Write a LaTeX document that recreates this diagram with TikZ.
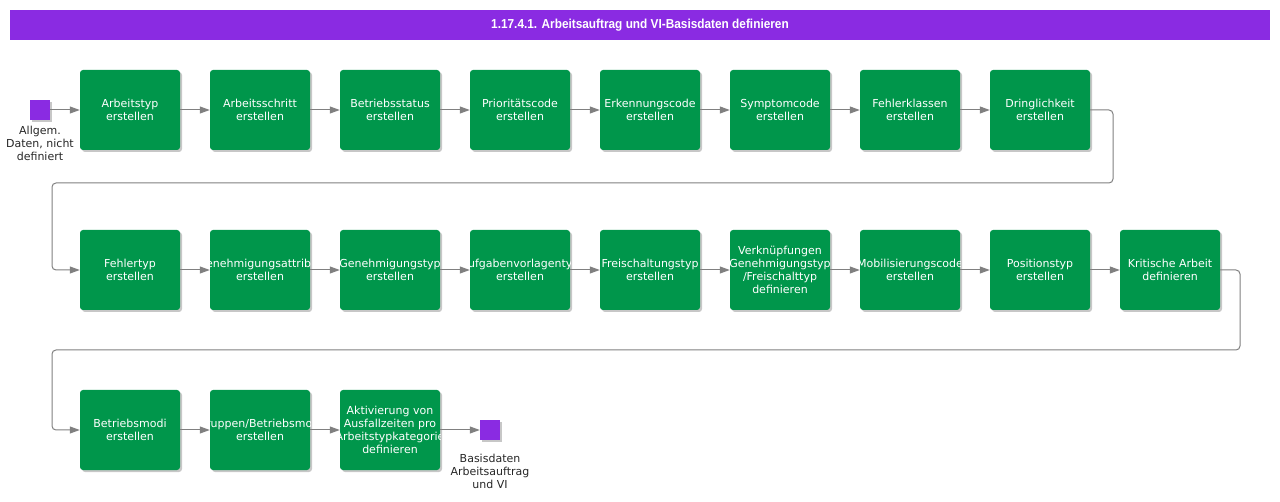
\documentclass[tikz,border=0pt]{standalone}
\usepackage{fontspec}
\setmainfont{DejaVu Sans}
\newfontfamily\titlefont{Liberation Sans}
\usetikzlibrary{arrows.meta,shadows}
\definecolor{titlebg}{HTML}{8A2BE2}
\definecolor{boxgreen}{HTML}{00964B}
\definecolor{linegray}{HTML}{808080}
\newcommand{\boxfont}{\fontsize{11}{13}\selectfont}
\tikzset{
  stepbox/.style={rectangle, rounded corners=3pt, fill=boxgreen, minimum width=100pt, minimum height=80pt, inner sep=0pt,
    drop shadow={shadow xshift=2pt, shadow yshift=-2pt, fill=black, opacity=0.22},
    path picture={\node[text=white, align=center, font=\boxfont, inner sep=0pt] at (path picture bounding box.center) {#1};}},
  term/.style={rectangle, fill=titlebg, minimum width=20pt, minimum height=20pt, inner sep=0pt,
    drop shadow={shadow xshift=2pt, shadow yshift=-2pt, fill=black, opacity=0.22}},
  termlabel/.style={align=center, font=\boxfont, text=black!85, inner sep=0pt},
  conn/.style={draw=linegray, line width=1pt, rounded corners=4pt, -{Triangle[length=10pt,width=7pt]}},
}
\begin{document}
\begin{tikzpicture}[x=1pt,y=-1pt]
\useasboundingbox (0,0) rectangle (1280,502);
\node[fill=titlebg, minimum width=1260pt, minimum height=30pt, inner sep=0pt, text=white, font=\titlefont\bfseries\fontsize{13}{15}\selectfont] (title) at (640,25) {\scalebox{0.91}[1]{1.17.4.1. Arbeitsauftrag und VI-Basisdaten definieren}};

\node[term] (start) at (40,110) {};
\node[termlabel, anchor=north] (startl) at (40,126) {Allgem.\\Daten, nicht\\definiert};

\node[stepbox={Arbeitstyp\\erstellen}] (a1) at (130,110) {};
\node[stepbox={Arbeitsschritt\\erstellen}] (a2) at (260,110) {};
\node[stepbox={Betriebsstatus\\erstellen}] (a3) at (390,110) {};
\node[stepbox={Prioritätscode\\erstellen}] (a4) at (520,110) {};
\node[stepbox={Erkennungscode\\erstellen}] (a5) at (650,110) {};
\node[stepbox={Symptomcode\\erstellen}] (a6) at (780,110) {};
\node[stepbox={Fehlerklassen\\erstellen}] (a7) at (910,110) {};
\node[stepbox={Dringlichkeit\\erstellen}] (a8) at (1040,110) {};

\node[stepbox={Fehlertyp\\erstellen}] (b1) at (130,270) {};
\node[stepbox={Genehmigungsattribut\\erstellen}] (b2) at (260,270) {};
\node[stepbox={Genehmigungstyp\\erstellen}] (b3) at (390,270) {};
\node[stepbox={Aufgabenvorlagentyp\\erstellen}] (b4) at (520,270) {};
\node[stepbox={Freischaltungstyp\\erstellen}] (b5) at (650,270) {};
\node[stepbox={Verknüpfungen\\Genehmigungstyp\\/Freischalttyp\\definieren}] (b6) at (780,270) {};
\node[stepbox={Mobilisierungscode\\erstellen}] (b7) at (910,270) {};
\node[stepbox={Positionstyp\\erstellen}] (b8) at (1040,270) {};
\node[stepbox={Kritische Arbeit\\definieren}] (b9) at (1170,270) {};

\node[stepbox={Betriebsmodi\\erstellen}] (c1) at (130,430) {};
\node[stepbox={Gruppen/Betriebsmodi\\erstellen}] (c2) at (260,430) {};
\node[stepbox={Aktivierung von\\Ausfallzeiten pro\\Arbeitstypkategorie\\definieren}] (c3) at (390,430) {};

\node[term] (end) at (490,430) {};
\node[termlabel, anchor=north] (endl) at (490,454) {Basisdaten\\Arbeitsauftrag\\und VI};

\draw[conn] (start) -- (a1);
\draw[conn] (a1) -- (a2);
\draw[conn] (a2) -- (a3);
\draw[conn] (a3) -- (a4);
\draw[conn] (a4) -- (a5);
\draw[conn] (a5) -- (a6);
\draw[conn] (a6) -- (a7);
\draw[conn] (a7) -- (a8);
\draw[conn] (a8.east) -- (1113,110) -- (1113,183) -- (52,183) -- (52,270) -- (b1.west);
\draw[conn] (b1) -- (b2);
\draw[conn] (b2) -- (b3);
\draw[conn] (b3) -- (b4);
\draw[conn] (b4) -- (b5);
\draw[conn] (b5) -- (b6);
\draw[conn] (b6) -- (b7);
\draw[conn] (b7) -- (b8);
\draw[conn] (b8) -- (b9);
\draw[conn] (b9.east) -- (1240,270) -- (1240,350) -- (52,350) -- (52,430) -- (c1.west);
\draw[conn] (c1) -- (c2);
\draw[conn] (c2) -- (c3);
\draw[conn] (c3) -- (end);
\end{tikzpicture}
\end{document}
